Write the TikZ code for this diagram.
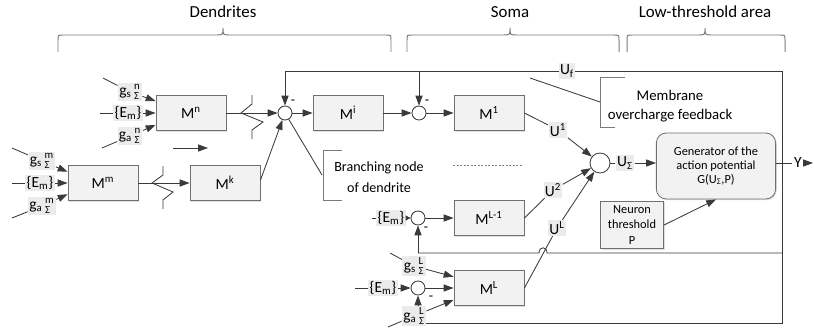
\documentclass[tikz,border=0pt]{standalone}
\usepackage{amsmath}
\usepackage{fontspec}
\setmainfont{Carlito}
\usetikzlibrary{arrows.meta,shadows}
\definecolor{LineGray}{HTML}{3A3A3A}
\definecolor{BoxFill}{HTML}{F2F2F2}
\definecolor{BoxEdge}{HTML}{707070}
\definecolor{LabelFill}{HTML}{EBEBEB}
\definecolor{BraceGray}{HTML}{7A7A7A}
\newcommand{\gsig}[2]{g\textsubscript{#1}\,$^{\text{#2}}_{\text{Σ}}$}
\newcommand{\bracetop}[3]{\draw[BraceGray,line width=0.7pt] (#1,52) -- (#1,40) .. controls (#1,35) .. (#1+5,35) -- (#2-7,35) .. controls (#2,35) .. (#2,28) .. controls (#2,35) .. (#2+7,35) -- (#3-5,35) .. controls (#3,35) .. (#3,40) -- (#3,52);}

\begin{document}
\begin{tikzpicture}[x=0.025cm,y=-0.025cm,line width=0.6pt,color=LineGray,>={Triangle[length=7pt,width=5pt]},
  every node/.append style={text=black},
  block/.style={draw=BoxEdge,fill=BoxFill,minimum width=1.75cm,minimum height=0.88cm,font=\fontsize{11}{13}\selectfont,
    drop shadow={shadow xshift=0.8pt,shadow yshift=-0.8pt,opacity=0.25}},
  summer/.style={circle,draw=LineGray,fill=white,minimum size=0.35cm,inner sep=0pt},
  sig/.style={fill=LabelFill,inner sep=1pt,font=\fontsize{11}{13}\selectfont},
  sign/.style={inner sep=0pt,font=\fontsize{10}{12}\selectfont},
  note/.style={align=center,font=\fontsize{10.5}{13.5}\selectfont},
  title/.style={font=\fontsize{12}{14}\selectfont},
  bracket/.style={BraceGray,line width=0.6pt},
  tiny tip/.style={-{Triangle[length=3.5pt,width=3.5pt]}}]
  \useasboundingbox (0,0) rectangle (814,328);

  \node[title] (tDen) at (223,12) {Dendrites}; \node[title] (tSoma) at (510,12) {Soma}; \node[title] (tLow) at (705,12) {Low-threshold area};
  \bracetop{58}{223}{391} \bracetop{407}{510}{619} \bracetop{627}{705}{785}

  \node[block] (Mn) at (191,113) {M\textsuperscript{n}};
  \node[block] (Mm) at (103,183) {M\textsuperscript{m}};
  \node[block] (Mk) at (225,183) {M\textsuperscript{k}};
  \node[block] (Mi) at (348,113) {M\textsuperscript{i}};
  \node[block] (M1) at (489,113) {M\textsuperscript{1}};
  \node[block] (ML1) at (489,218) {M\textsuperscript{L-1}};
  \node[block] (ML) at (489,288) {M\textsuperscript{L}};
  \node[block,rounded corners=7pt,minimum width=2.98cm,minimum height=1.65cm,align=center,font=\fontsize{8.8}{10}\selectfont] (gen) at (716,166) {Generator of the\\action potential\\G(U\textsubscript{Σ},P)};
  \node[block,minimum width=1.58cm,minimum height=1.15cm,align=center,font=\fontsize{8.8}{10.7}\selectfont] (thr) at (632,225) {Neuron\\threshold\\P};

  \node[summer] (s1) at (285,113) {}; \node[summer] (s2) at (419,113) {};
  \node[summer] (sL1) at (418,218) {}; \node[summer] (sL) at (418,288) {};
  \node[summer,minimum size=0.5cm] (sU) at (600,163) {};

  \coordinate (tl) at (285,71); \coordinate (tr) at (782,71); \coordinate (br) at (782,323); \coordinate (bl) at (418,323);
  \coordinate (mr) at (782,253); \coordinate (ml) at (418,253);
  \draw (tl) -- (tr) -- (br) -- (bl);
  \draw (mr) -- (547,253) .. controls (547,246) and (539,246) .. (539,253) -- (ml);
  \draw[->] (tl) -- (s1.north); \draw[->] (s2 |- tl) -- (s2.north);
  \draw[->] (ml) -- (sL1.south); \draw[->] (bl) -- (sL.south);

  \node[sig] (gsn) at (130,92) {\gsig{s}{n}}; \node[sig] (Emn) at (128,113) {\{E\textsubscript{m}\}}; \node[sig] (gan) at (130,136) {\gsig{a}{n}};
  \node[sig] (gsm) at (42,161) {\gsig{s}{m}}; \node[sig] (Emm) at (40,183) {\{E\textsubscript{m}\}}; \node[sig] (gam) at (42,206) {\gsig{a}{m}};
  \node[sig] (EmL1) at (391,218) {\{E\textsubscript{m}\}}; \node[sig] (EmL) at (383,288) {\{E\textsubscript{m}\}};
  \node[sig] (gsL) at (414,266) {\gsig{s}{L}}; \node[sig] (gaL) at (414,316) {\gsig{a}{L}};
  \node[sig] (U1) at (558,130) {U\textsuperscript{1}}; \node[sig] (U2) at (553,190) {U\textsuperscript{2}}; \node[sig] (UL) at (557,228) {U\textsuperscript{L}};
  \node[sig] (US) at (625,163) {U\textsubscript{Σ}}; \node[sig] (Uf) at (567,71) {U\textsubscript{f}};
  \node[sig,fill=none] (Y) at (798,163) {Y};
  \node[sign] (n1) at (293,102) {-}; \node[sign] (n2) at (427,102) {-}; \node[sign] (n3) at (426,229) {-}; \node[sign] (n4) at (431,298) {-};

  \draw (103,78) -- (gsn); \draw (100,113) -- (Emn); \draw (102,148) -- (gan);
  \draw[->] (gsn) -- ([yshift=8.5pt]Mn.west); \draw[->] (Emn) -- (Mn); \draw[->] (gan) -- ([yshift=-8.5pt]Mn.west);
  \draw (12,148) -- (gsm); \draw (12,183) -- (Emm); \draw (12,218) -- (gam);
  \draw[->] (gsm) -- ([yshift=8pt]Mm.west); \draw[->] (Emm) -- (Mm); \draw[->] (gam) -- ([yshift=-8pt]Mm.west);

  \draw[->] (Mn) -- (s1); \draw (252,95) -- (252,104) -- (241,113) -- (263,122) -- (252,130) -- (252,139);
  \draw[->] (Mm) -- (Mk); \draw (163,166) -- (163,175) -- (152,183) -- (173,192) -- (163,200) -- (163,209);
  \draw[->] ([yshift=2pt]Mk.east) -- (s1);
  \draw[->] (s1) -- (Mi); \draw[->] (Mi) -- (s2); \draw[->] (s2) -- (M1);

  \draw (372,218) -- (EmL1); \draw[tiny tip] (EmL1) -- (sL1); \draw[->] (sL1) -- (ML1);
  \draw (355,288) -- (EmL); \draw[->] (EmL) -- (sL); \draw[->] (sL) -- (ML);
  \draw (390,253) -- (gsL); \draw[->] (gsL) -- ([yshift=8pt]ML.west);
  \draw (388,327) -- (gaL); \draw[->] (gaL) -- ([yshift=-8.5pt]ML.west);

  \draw (M1.east) -- (U1); \draw[->] (U1) -- (sU);
  \draw (ML1.east) -- (U2); \draw[->] (U2) -- (sU);
  \draw (ML.east) -- (UL); \draw[->] (UL) -- (sU);
  \draw (sU) -- (US); \draw[->] (US) -- (gen.west |- US);
  \coordinate (yo) at (813,163);
  \draw (gen.east |- Y) -- (Y); \draw[->] (Y) -- (yo);
  \draw[->] (thr.east) -- (gen.south);

  \coordinate (brA) at (322,175); \draw (s1) -- (brA);
  \draw[bracket] (342,150) -- (323,150) -- (323,200) -- (342,200);
  \node[note,font=\fontsize{10}{15}\selectfont] (brT) at (379,177) {Branching node\\of dendrite};
  \coordinate (mbA) at (530,78); \coordinate (mbB) at (600,102); \draw (mbA) -- (mbB);
  \draw[bracket] (625,77) -- (600,77) -- (600,127) -- (615,127);
  \node[note] (mbT) at (670,106) {Membrane\\overcharge feedback};

  \coordinate (dsA) at (453,165); \coordinate (dsB) at (523,165); \draw[gray,line width=0.4pt,dash pattern=on 1.5pt off 1pt] (dsA) -- (dsB);
  \coordinate (fa) at (173,148); \coordinate (fb) at (208,148); \draw[->] (fa) -- (fb);
\end{tikzpicture}
\end{document}
